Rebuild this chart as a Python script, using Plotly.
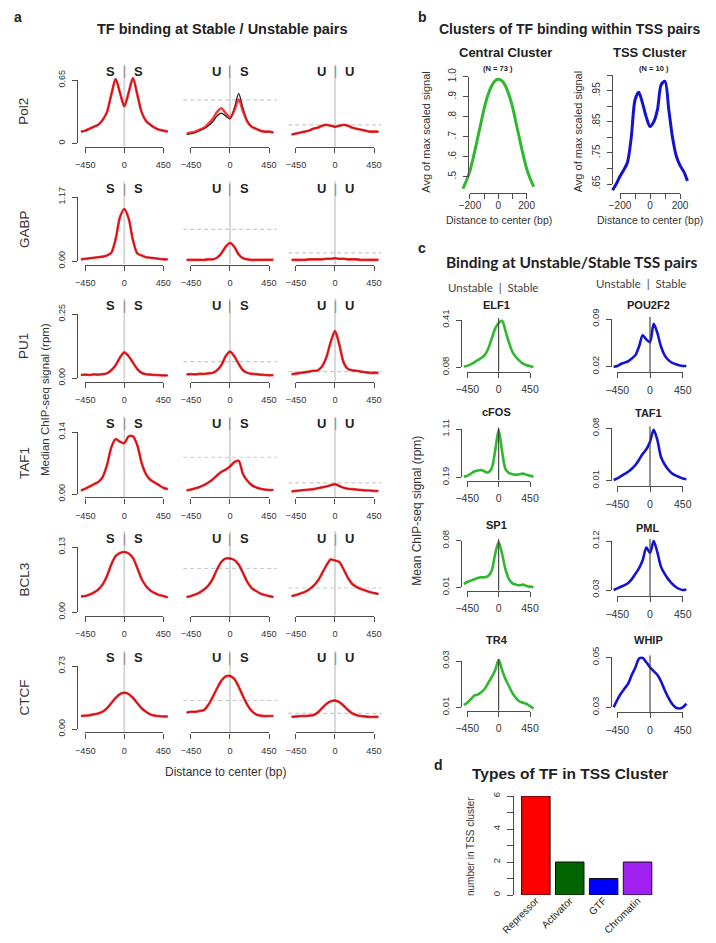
import plotly.graph_objects as go

W, H = 716, 943          # browser window
OFF = 8                  # default page margin around the figure
FW, FH = W - 2 * OFF, H - 2 * OFF

# ---------------------------------------------------------------- data
X_A = list(range(-500, 501, 50))          # distance to center (bp) for panels a / c
X_B = list(range(-250, 251, 25))          # distance to center (bp) for panel b

# Panel a: rows Pol2, GABP, PU1, TAF1, BCL3, CTCF ; columns S|S, U|S, U|U
pol2_ss = [0.12, 0.13, 0.15, 0.17, 0.19, 0.24, 0.32, 0.50, 0.66, 0.52, 0.38, 0.52, 0.67, 0.50, 0.32, 0.23, 0.19, 0.16, 0.14, 0.13, 0.12]
pol2_us = [0.10, 0.11, 0.12, 0.14, 0.16, 0.20, 0.25, 0.32, 0.36, 0.31, 0.26, 0.34, 0.45, 0.33, 0.22, 0.17, 0.15, 0.13, 0.12, 0.12, 0.11]
pol2_us_black = [0.09, 0.10, 0.11, 0.13, 0.15, 0.18, 0.22, 0.28, 0.31, 0.28, 0.25, 0.36, 0.51, 0.36, 0.23, 0.17, 0.15, 0.13, 0.12, 0.12, 0.11]
pol2_uu = [0.09, 0.10, 0.11, 0.12, 0.13, 0.15, 0.16, 0.18, 0.19, 0.18, 0.17, 0.18, 0.19, 0.18, 0.16, 0.15, 0.14, 0.13, 0.12, 0.12, 0.12]

gabp_ss = [0.03, 0.04, 0.05, 0.06, 0.07, 0.08, 0.10, 0.15, 0.40, 0.80, 0.95, 0.78, 0.38, 0.14, 0.10, 0.07, 0.06, 0.05, 0.04, 0.03, 0.03]
gabp_us = [0.02, 0.02, 0.02, 0.02, 0.02, 0.03, 0.03, 0.06, 0.14, 0.26, 0.33, 0.26, 0.12, 0.05, 0.03, 0.02, 0.02, 0.02, 0.02, 0.02, 0.02]
gabp_uu = [0.02, 0.02, 0.02, 0.02, 0.03, 0.03, 0.03, 0.03, 0.04, 0.04, 0.05, 0.04, 0.04, 0.03, 0.03, 0.03, 0.02, 0.02, 0.02, 0.02, 0.02]

pu1_ss = [0.012, 0.013, 0.012, 0.014, 0.013, 0.015, 0.018, 0.030, 0.050, 0.080, 0.100, 0.085, 0.060, 0.035, 0.020, 0.015, 0.013, 0.012, 0.011, 0.010, 0.010]
pu1_us = [0.014, 0.015, 0.014, 0.016, 0.016, 0.018, 0.020, 0.030, 0.050, 0.085, 0.103, 0.085, 0.055, 0.030, 0.020, 0.016, 0.015, 0.013, 0.012, 0.011, 0.011]
pu1_uu = [0.015, 0.017, 0.020, 0.022, 0.025, 0.028, 0.030, 0.045, 0.080, 0.140, 0.183, 0.130, 0.060, 0.035, 0.030, 0.028, 0.025, 0.022, 0.020, 0.020, 0.020]

taf1_ss = [0.008, 0.012, 0.017, 0.022, 0.027, 0.038, 0.065, 0.105, 0.124, 0.118, 0.115, 0.130, 0.130, 0.110, 0.070, 0.045, 0.032, 0.026, 0.020, 0.014, 0.011]
taf1_us = [0.008, 0.010, 0.013, 0.016, 0.020, 0.026, 0.033, 0.042, 0.050, 0.055, 0.062, 0.072, 0.075, 0.045, 0.030, 0.020, 0.015, 0.012, 0.010, 0.009, 0.009]
taf1_uu = [0.006, 0.007, 0.008, 0.009, 0.010, 0.011, 0.013, 0.015, 0.017, 0.020, 0.022, 0.018, 0.014, 0.012, 0.011, 0.010, 0.009, 0.008, 0.008, 0.007, 0.007]

bcl3_ss = [0.031, 0.032, 0.035, 0.039, 0.045, 0.055, 0.072, 0.095, 0.112, 0.118, 0.120, 0.117, 0.108, 0.088, 0.066, 0.052, 0.043, 0.038, 0.034, 0.032, 0.029]
bcl3_us = [0.030, 0.032, 0.035, 0.039, 0.045, 0.053, 0.066, 0.085, 0.100, 0.107, 0.107, 0.104, 0.095, 0.078, 0.060, 0.048, 0.042, 0.037, 0.034, 0.032, 0.030]
bcl3_uu = [0.032, 0.034, 0.037, 0.040, 0.045, 0.052, 0.062, 0.077, 0.093, 0.105, 0.103, 0.100, 0.085, 0.068, 0.056, 0.050, 0.046, 0.043, 0.040, 0.038, 0.036]

ctcf_ss = [0.150, 0.155, 0.160, 0.170, 0.180, 0.200, 0.240, 0.300, 0.360, 0.405, 0.420, 0.405, 0.360, 0.300, 0.240, 0.200, 0.170, 0.155, 0.150, 0.145, 0.145]
ctcf_us = [0.190, 0.200, 0.200, 0.210, 0.220, 0.280, 0.370, 0.470, 0.560, 0.610, 0.615, 0.580, 0.490, 0.380, 0.280, 0.210, 0.170, 0.155, 0.150, 0.150, 0.150]
ctcf_uu = [0.140, 0.145, 0.150, 0.150, 0.155, 0.160, 0.190, 0.240, 0.290, 0.320, 0.330, 0.310, 0.270, 0.220, 0.180, 0.160, 0.150, 0.145, 0.140, 0.140, 0.140]

row_names = ["Pol2", "GABP", "PU1", "TAF1", "BCL3", "CTCF"]
row_max = [0.65, 1.17, 0.25, 0.14, 0.13, 0.73]
row_max_text = ["0.65", "1.17", "0.25", "0.14", "0.13", "0.73"]
row_zero_text = ["0", "0.00", "0.00", "0.00", "0.00", "0.00"]
col_tags = [("S", "S"), ("U", "S"), ("U", "U")]
dash_us = [0.445, 0.58, 0.064, 0.083, 0.087, 0.33]
dash_uu = [0.19, 0.15, 0.025, 0.025, 0.048, 0.18]

a_red = [[pol2_ss, pol2_us, pol2_uu], [gabp_ss, gabp_us, gabp_uu], [pu1_ss, pu1_us, pu1_uu],
         [taf1_ss, taf1_us, taf1_uu], [bcl3_ss, bcl3_us, bcl3_uu], [ctcf_ss, ctcf_us, ctcf_uu]]
a_black = [[pol2_ss, pol2_us_black, pol2_uu], [gabp_ss, gabp_us, gabp_uu], [pu1_ss, pu1_us, pu1_uu],
           [taf1_ss, taf1_us, taf1_uu], [bcl3_ss, bcl3_us, bcl3_uu], [ctcf_ss, ctcf_us, ctcf_uu]]

# Panel b
central_cluster = [0.44, 0.48, 0.53, 0.60, 0.68, 0.76, 0.84, 0.905, 0.95, 0.978, 0.987, 0.98, 0.955, 0.91, 0.85, 0.77, 0.69, 0.61, 0.54, 0.49, 0.45]
tss_cluster = [0.63, 0.65, 0.675, 0.695, 0.72, 0.80, 0.92, 0.945, 0.91, 0.865, 0.835, 0.85, 0.89, 0.97, 0.98, 0.89, 0.80, 0.74, 0.71, 0.69, 0.66]

# Panel c
elf1 = [0.085, 0.09, 0.10, 0.115, 0.13, 0.145, 0.165, 0.21, 0.28, 0.35, 0.39, 0.405, 0.33, 0.25, 0.185, 0.15, 0.125, 0.105, 0.095, 0.088, 0.082]
cfos = [0.20, 0.22, 0.26, 0.30, 0.32, 0.33, 0.30, 0.28, 0.36, 0.70, 1.10, 0.68, 0.34, 0.27, 0.25, 0.24, 0.25, 0.26, 0.24, 0.22, 0.20]
sp1 = [0.015, 0.018, 0.020, 0.022, 0.024, 0.025, 0.025, 0.027, 0.035, 0.060, 0.078, 0.060, 0.036, 0.022, 0.016, 0.014, 0.013, 0.014, 0.012, 0.011, 0.010]
tr4 = [0.011, 0.012, 0.0135, 0.015, 0.0155, 0.0165, 0.018, 0.0205, 0.023, 0.026, 0.0305, 0.026, 0.022, 0.019, 0.016, 0.014, 0.0125, 0.012, 0.0115, 0.0105, 0.0095]
pou2f2 = [0.020, 0.021, 0.024, 0.026, 0.028, 0.032, 0.037, 0.050, 0.066, 0.060, 0.056, 0.083, 0.070, 0.050, 0.037, 0.030, 0.026, 0.024, 0.022, 0.021, 0.021]
taf1_c = [0.011, 0.013, 0.016, 0.019, 0.022, 0.026, 0.031, 0.038, 0.046, 0.052, 0.062, 0.078, 0.065, 0.042, 0.032, 0.025, 0.020, 0.017, 0.015, 0.013, 0.012]
pml = [0.030, 0.033, 0.036, 0.039, 0.043, 0.050, 0.060, 0.070, 0.085, 0.108, 0.098, 0.120, 0.100, 0.073, 0.060, 0.050, 0.042, 0.036, 0.032, 0.030, 0.031]
whip = [0.030, 0.033, 0.0355, 0.0375, 0.0395, 0.043, 0.046, 0.0495, 0.0497, 0.048, 0.046, 0.0445, 0.043, 0.0405, 0.037, 0.034, 0.0315, 0.030, 0.0295, 0.030, 0.0315]

c_green_names = ["ELF1", "cFOS", "SP1", "TR4"]
c_green_vals = [elf1, cfos, sp1, tr4]
c_green_lo = ["0.08", "0.19", "0.01", "0.01"]
c_green_hi = ["0.41", "1.11", "0.08", "0.03"]
c_blue_names = ["POU2F2", "TAF1", "PML", "WHIP"]
c_blue_vals = [pou2f2, taf1_c, pml, whip]
c_blue_lo = ["0.02", "0.01", "0.03", "0.03"]
c_blue_hi = ["0.09", "0.08", "0.12", "0.05"]

# Panel d
tf_types = ["Repressor", "Activator", "GTF", "Chromatin"]
tf_counts = [6, 2, 1, 2]
tf_colors = ["#ff0000", "#006400", "#0000ff", "#a020f0"]

# ---------------------------------------------------------------- helpers
FONT = "Liberation Sans, Arial, Helvetica, sans-serif"
FONT_C = "Lato, Liberation Sans, Arial, sans-serif"
TXT = "#222222"
AXC = "#4d4d4d"
RED = "rgba(240,15,20,0.82)"
GREEN = "#2eb82e"
BLUE = "#1414d0"

fig = go.Figure()
layout = {}
annotations = []
n_ax = [0]


def pf(px):
    return (px - OFF) / FW


def pfy(py):
    return 1 - (py - OFF) / FH


def new_pair():
    n_ax[0] += 1
    n = n_ax[0]
    s = "" if n == 1 else str(n)
    return "xaxis" + s, "yaxis" + s, "x" + s, "y" + s


def lin(v0, p0, v1, p1):
    k = (p1 - p0) / (v1 - v0)
    return (lambda v: p0 + (v - v0) * k), (lambda p: v0 + (p - p0) / k)


def line(x, y, xr, yr, color, width, dash=None, spline=True):
    ld = dict(color=color, width=width)
    if dash:
        ld["dash"] = dash
    if spline:
        ld["shape"] = "spline"
        ld["smoothing"] = 0.8
    fig.add_trace(go.Scatter(x=x, y=y, xaxis=xr, yaxis=yr, mode="lines", line=ld,
                             hoverinfo="skip", showlegend=False))


def txt(x, y, s, size, bold=False, color=TXT, angle=0, family=FONT):
    annotations.append(dict(x=pf(x), y=pfy(y), xref="paper", yref="paper",
                            text="<b>%s</b>" % s if bold else s, showarrow=False,
                            xanchor="center", yanchor="middle", textangle=angle, borderpad=0,
                            font=dict(size=size, color=color, family=family)))


def hidden(**kw):
    d = dict(visible=False, fixedrange=True, automargin=False, showgrid=False, zeroline=False)
    d.update(kw)
    return d


def axis_style(size, standoff, ticklen=5):
    return dict(showline=True, linecolor=AXC, linewidth=1.3, ticks="outside", ticklen=ticklen,
                tickwidth=1.3, tickcolor=AXC, showgrid=False, zeroline=False, automargin=False,
                tickfont=dict(size=size, color="#333333", family=FONT),
                ticklabelstandoff=standoff, fixedrange=True)


def panel(xc, xs, ymap, data_x, data_ypx, under=(), curves=(), over=(), hlines=(),
          xdeco=None, ydeco=None):
    ypx, yval = lin(*ymap)
    xk, yk, xr, yr = new_pair()
    layout[xk] = hidden(domain=[pf(xc + data_x[0] * xs), pf(xc + data_x[1] * xs)], range=list(data_x))
    y0, y1 = yval(data_ypx[0]), yval(data_ypx[1])
    layout[yk] = hidden(domain=[pfy(data_ypx[0]), pfy(data_ypx[1])], range=[y0, y1])
    for (xv, color, width) in under:
        line([xv, xv], [y0, y1], xr, yr, color, width, spline=False)
    for (hv, color, width) in hlines:
        line([data_x[0], data_x[1]], [hv, hv], xr, yr, color, width, dash="4px,3px", spline=False)
    for (xx, yy, color, width) in curves:
        line(xx, yy, xr, yr, color, width)
    for (xv, color, width) in over:
        line([xv, xv], [y0, y1], xr, yr, color, width, spline=False)
    # decoration axes (R style: lines span only the tick range)
    xk2, yk2, xr2, yr2 = new_pair()
    r0, r1, tv, tt, pos, size, so = xdeco
    d = axis_style(size, so)
    d.update(domain=[pf(xc + r0 * xs), pf(xc + r1 * xs)], range=[r0, r1], anchor="free",
             position=pfy(pos), tickvals=tv, ticktext=tt)
    layout[xk2] = d
    if ydeco:
        r0, r1, tv, tt, pos, size, so = ydeco
        d = axis_style(size, so)
        d.update(domain=[pfy(ypx(r0)), pfy(ypx(r1))], range=[r0, r1], anchor="free",
                 position=pf(pos), tickvals=tv, ticktext=tt, tickangle=-90)
        layout[yk2] = d
    else:
        layout[yk2] = hidden(domain=[pfy(data_ypx[0]), pfy(data_ypx[1])], range=[0, 1],
                             anchor="free", position=0)
    fig.add_trace(go.Scatter(x=[None], y=[None], xaxis=xr2, yaxis=yr2, mode="lines",
                             hoverinfo="skip", showlegend=False))


# ---------------------------------------------------------------- panel a
row_top_px = [80, 197, 314, 432, 547, 666]
row_zero_px = [143.3, 261, 378, 494, 612, 729]
col_center_px = [124.3, 230.0, 335.0]
XS_A = 0.0867

for r in range(6):
    M = row_max[r]
    T, B = row_top_px[r], row_zero_px[r]
    ypx, _ = lin(0, B, M, T)
    bottom = ypx(-0.055 * M)
    top = ypx(1.248 * M)
    for c in range(3):
        xc = col_center_px[c]
        hl = []
        if c == 1:
            hl = [(dash_us[r], "#c9c9c9", 1.2)]
        elif c == 2:
            hl = [(dash_uu[r], "#c9c9c9", 1.2)]
        ydeco = None
        if c == 0:
            ydeco = (0, M, [0, M], [row_zero_text[r], row_max_text[r]], xc - 540 * XS_A, 9, 4)
        panel(xc, XS_A, (0, B, M, T), (-540, 540), (bottom, top),
              under=[(0, "#d4d4d4", 1.8)],
              hlines=hl,
              curves=[(X_A, a_black[r][c], "#1a1a1a", 1.3), (X_A, a_red[r][c], RED, 2.6)],
              xdeco=(-450, 450, [-450, 0, 450], ["\u2212450", "0", "450"], bottom, 9.2, 4),
              ydeco=ydeco)
        lt, rt = col_tags[c]
        txt(xc - 14, T - 8.5, lt, 13, bold=True)
        txt(xc, T - 8.5, "|", 12, color="#8a8a8a")
        txt(xc + 14, T - 8.5, rt, 13, bold=True)
    txt(24, (T + B) / 2, row_names[r], 13.5, angle=-90, color="#333333")

txt(18, 17, "a", 14, bold=True)
txt(222, 29, "TF binding at Stable / Unstable pairs", 14.5, bold=True)
txt(45, 400, "Median ChIP-seq signal (rpm)", 11.5, angle=-90, color="#333333")
txt(225, 772, "Distance to center (bp)", 12, color="#333333")

# ---------------------------------------------------------------- panel b
panel(498.3, 0.1417, (0.5, 176.7, 1.0, 76.7), (-280, 280), (192.7, 70),
      curves=[(X_B, central_cluster, GREEN, 3)],
      xdeco=(-200, 200, [-200, -100, 0, 100, 200], ["\u2212200", "", "0", "", "200"], 192.7, 10, -2),
      ydeco=(0.5, 1.0, [0.5, 0.6, 0.7, 0.8, 0.9, 1.0], [".5", ".6", ".7", ".8", ".9", "1.0"], 468.3, 10, 3))
panel(650, 0.15, (0.65, 184, 0.95, 90.7), (-280, 280), (192.7, 70),
      curves=[(X_B, tss_cluster, BLUE, 3)],
      xdeco=(-200, 200, [-200, -100, 0, 100, 200], ["\u2212200", "", "0", "", "200"], 192.7, 10, -2),
      ydeco=(0.65, 1.0, [0.65, 0.70, 0.75, 0.80, 0.85, 0.90, 0.95, 1.0],
             [".65", "", ".75", "", ".85", "", ".95", ""], 611.7, 10, 3))

txt(422, 17, "b", 14, bold=True)
txt(570, 29, "Clusters of TF binding within TSS pairs", 14, bold=True)
txt(505, 53, "Central Cluster", 13, bold=True)
txt(498, 68.5, "(N = 73 )", 7.5, bold=True)
txt(650, 53, "TSS Cluster", 13, bold=True)
txt(654, 68.5, "(N = 10 )", 7.5, bold=True)
txt(425.7, 132, "Avg of max scaled signal", 11, angle=-90, color="#333333")
txt(578.3, 132, "Avg of max scaled signal", 11, angle=-90, color="#333333")
txt(499, 220, "Distance to center (bp)", 10.5, color="#333333")
txt(650, 220, "Distance to center (bp)", 10.5, color="#333333")

# ---------------------------------------------------------------- panel c
green_rows = [(367.3, 320.0, 371.7, 305.0), (477.3, 429.3, 480.5, 411.7),
              (587.3, 540.7, 590.7, 525.0), (707.3, 661.0, 710.7, 640.0)]
blue_rows = [(366.7, 319.0, 372.0, 305.0), (480.7, 428.3, 486.0, 413.3),
             (590.0, 541.0, 596.0, 528.3), (707.3, 657.3, 712.0, 640.0)]
GX, GS = 498.65, 0.0697
BX, BS = 650.0, 0.0727

for i in range(4):
    for (xc, xs, rows, names, vals, los, his, col) in [
            (GX, GS, green_rows, c_green_names, c_green_vals, c_green_lo, c_green_hi, GREEN),
            (BX, BS, blue_rows, c_blue_names, c_blue_vals, c_blue_lo, c_blue_hi, BLUE)]:
        B, T, axp, tp = rows[i]
        lo, hi = float(los[i]), float(his[i])
        panel(xc, xs, (lo, B, hi, T), (-540, 540), (axp, T - 2),
              curves=[(X_A, vals[i], col, 2.6)],
              over=[(0, "#3a3a3a", 1.1)],
              xdeco=(-450, 450, [-450, 0, 450], ["\u2212450", "0", "450"], axp, 10.5, 3),
              ydeco=(lo, hi, [lo, hi], [los[i], his[i]], xc - 540 * xs, 9.5, 3))
        txt(xc - 2, tp, names[i], 11, bold=True)

txt(422, 248, "c", 14, bold=True)
txt(571, 262, "Binding at Unstable/Stable TSS pairs", 15.5, bold=True, family=FONT_C)
txt(493, 287, "Unstable  |  Stable", 11.5, color="#444444", family=FONT_C)
txt(641, 283, "Unstable  |  Stable", 11.5, color="#444444", family=FONT_C)
txt(416.7, 511, "Mean ChIP-seq signal (rpm)", 12, angle=-90, color="#333333")

# ---------------------------------------------------------------- panel d
xk, yk, xr, yr = new_pair()
layout[xk] = dict(domain=[pf(518.9), pf(654.5)], range=[-0.5, 3.5], type="category", anchor=yr,
                  showline=False, ticks="", showgrid=False, zeroline=False, tickangle=-45,
                  automargin=False, ticklabelstandoff=-3,
                  tickfont=dict(size=10, color="#222222", family=FONT), fixedrange=True)
yd = axis_style(9.5, 3, ticklen=6)
yd.update(domain=[pfy(895), pfy(796)], range=[0, 6], anchor="free", position=pf(513.3),
          tickvals=[0, 1, 2, 3, 4, 5, 6], ticktext=["0", "", "2", "", "4", "", "6"], tickangle=-90)
layout[yk] = yd
fig.add_trace(go.Bar(x=tf_types, y=tf_counts, width=0.84, xaxis=xr, yaxis=yr,
                     marker=dict(color=tf_colors, line=dict(color="#111111", width=1)),
                     hoverinfo="skip", showlegend=False))

txt(438, 765, "d", 14, bold=True)
txt(570, 773, "Types of TF in TSS Cluster", 15.5, bold=True)
txt(470, 847, "number in TSS cluster", 10, angle=-90, color="#333333")

fig.update_layout(template="none", width=FW, height=FH, autosize=False,
                  margin=dict(l=0, r=0, t=0, b=0, pad=0),
                  paper_bgcolor="white", plot_bgcolor="rgba(0,0,0,0)",
                  showlegend=False, hovermode=False,
                  font=dict(family=FONT, color=TXT), annotations=annotations, **layout)

fig.write_html("out.html", config={"displayModeBar": False})
